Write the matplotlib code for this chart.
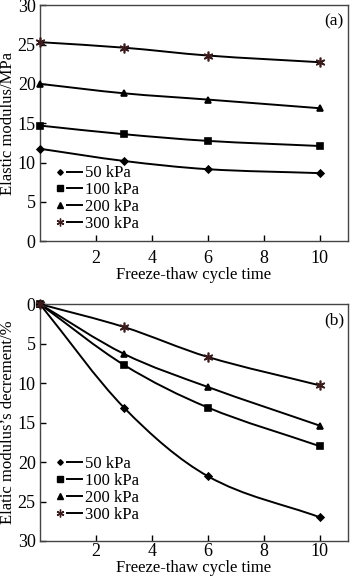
import matplotlib
matplotlib.use("Agg")
import matplotlib.pyplot as plt
from matplotlib.lines import Line2D
from matplotlib.legend_handler import HandlerTuple
from matplotlib.path import Path
from matplotlib.patches import PathPatch

plt.rcParams["font.family"] = ["Liberation Serif", "DejaVu Serif"]

cycles = [0, 3, 6, 10]
labels = ["50 kPa", "100 kPa", "200 kPa", "300 kPa"]

# (a) elastic modulus, MPa
modulus = {
    "50 kPa": [11.75, 10.2, 9.15, 8.65],
    "100 kPa": [14.7, 13.6, 12.75, 12.1],
    "200 kPa": [20.0, 18.8, 18.0, 16.9],
    "300 kPa": [25.3, 24.6, 23.6, 22.75],
}
# (b) elastic modulus decrement, %
decrement = {
    "50 kPa": [0.0, 13.1, 21.8, 27.0],
    "100 kPa": [0.0, 7.7, 13.1, 18.0],
    "200 kPa": [0.0, 6.3, 10.5, 15.4],
    "300 kPa": [0.0, 2.9, 6.7, 10.3],
}

MARKERS = {"50 kPa": "D", "100 kPa": "s", "200 kPa": "^", "300 kPa": (6, 2, 0)}
MSIZE = {"50 kPa": 3.5, "100 kPa": 5, "200 kPa": 5, "300 kPa": 7}
MCOLOR = {"50 kPa": "black", "100 kPa": "black", "200 kPa": "black", "300 kPa": "#3a1c1c"}
SPINE = "#444444"


def smooth_path(x, y):
    """Cubic Bezier through the data points (Hermite-style tangents)."""
    n = len(x)
    slopes = []
    for i in range(n):
        if i == 0:
            s = (y[1] - y[0]) / (x[1] - x[0])
        elif i == n - 1:
            s = (y[-1] - y[-2]) / (x[-1] - x[-2])
        else:
            s = (y[i + 1] - y[i - 1]) / (x[i + 1] - x[i - 1])
        slopes.append(s)
    verts = [(x[0], y[0])]
    codes = [Path.MOVETO]
    for i in range(n - 1):
        dx = (x[i + 1] - x[i]) / 3.0
        verts += [(x[i] + dx, y[i] + slopes[i] * dx),
                  (x[i + 1] - dx, y[i + 1] - slopes[i + 1] * dx),
                  (x[i + 1], y[i + 1])]
        codes += [Path.CURVE4] * 3
    return Path(verts, codes)


def draw_panel(ax, data, ylabel, tag, invert, xpad, legend_y):
    for lab in labels:
        y = data[lab]
        ax.add_patch(PathPatch(smooth_path(cycles, y), fill=False, edgecolor="black", lw=1.4, zorder=2))
        ax.plot(cycles, y, linestyle="none", marker=MARKERS[lab], markersize=MSIZE[lab],
                color=MCOLOR[lab], markeredgewidth=1.2, zorder=3, clip_on=False)
    ax.set_xlim(0, 11)
    ax.set_ylim(0, 30)
    if invert:
        ax.invert_yaxis()
    ax.set_xticks([2, 4, 6, 8, 10])
    ax.set_yticks([0, 5, 10, 15, 20, 25, 30])
    ax.tick_params(direction="in", length=4, width=1, labelsize=13, colors="black",
                   top=False, right=False, pad=3)
    ax.tick_params(axis="x", pad=xpad)
    for sp in ax.spines.values():
        sp.set_color(SPINE)
        sp.set_linewidth(1.0)
    ax.set_xlabel("Freeze-thaw cycle time", fontsize=12, labelpad=0)
    ax.set_ylabel(ylabel, fontsize=12, labelpad=1)
    ax.text(0.955, 0.93, tag, transform=ax.transAxes, ha="center", va="center", fontsize=12.5)

    handles = []
    for lab in labels:
        mk = Line2D([], [], linestyle="none", marker=MARKERS[lab], markersize=MSIZE[lab] * 0.8,
                    color=MCOLOR[lab], markeredgewidth=1.0)
        ln = Line2D([], [], color="black", lw=1.4)
        handles.append((mk, ln))
    ax.legend(handles, labels, handler_map={tuple: HandlerTuple(ndivide=None, pad=0.05)},
              loc="lower left", bbox_to_anchor=(0.03, legend_y), frameon=False, fontsize=12,
              handlelength=1.75, handletextpad=0.22, labelspacing=0.05, borderpad=0.2,
              borderaxespad=0)


fig = plt.figure(figsize=(3.5, 5.77), dpi=100)
ax_a = fig.add_axes([0.114, 0.582, 0.880, 0.409])
ax_b = fig.add_axes([0.114, 0.0624, 0.880, 0.4106])

draw_panel(ax_a, modulus, "Elastic modulus/MPa", "(a)", invert=False, xpad=6, legend_y=0.025)
draw_panel(ax_b, decrement, "Elatic modulus\u2019s decrement/%", "(b)", invert=True, xpad=1.5, legend_y=0.063)

fig.savefig("out.png", dpi=100)
